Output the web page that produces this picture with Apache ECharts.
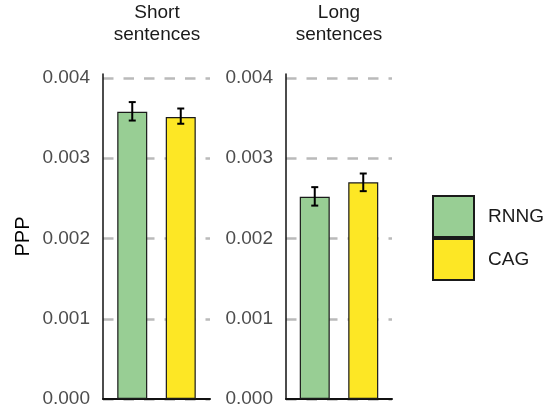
<!DOCTYPE html>
<html>
<head>
<meta charset="utf-8">
<script src="https://cdn.jsdelivr.net/npm/echarts@6/dist/echarts.min.js"></script>
<style>
  html, body { margin: 0; padding: 0; background: #fff; }
  #chart { width: 548px; height: 411px; }
</style>
</head>
<body>
<div id="chart"></div>
<script>
// facets and values
var panels = ['Short\nsentences', 'Long\nsentences'];
var rnngMean = [0.00358, 0.00252];
var rnngLow = [0.00347, 0.00241];
var rnngHigh = [0.00370, 0.00264];
var cagMean = [0.003515, 0.00270];
var cagLow = [0.00343, 0.00259];
var cagHigh = [0.00362, 0.00281];
var yTicks = [0, 0.001, 0.002, 0.003, 0.004];

var FONT = '"Liberation Sans", Arial, sans-serif';
var GREEN = '#98CE94';
var YELLOW = '#FDE725';
var BAR_W = 30;
var BAR_GAP = 18.5;

var chart = echarts.init(document.getElementById('chart'));

var grids = [
  { left: 103, top: 74, width: 107, height: 325 },
  { left: 286, top: 74, width: 106, height: 325 }
];
var titleX = [157, 339];

function errSeries(gi, name, lows, highs, side) {
  var off = side * (BAR_W + BAR_GAP) / 2;
  return {
    type: 'custom',
    name: name,
    xAxisIndex: gi,
    yAxisIndex: gi,
    z: 5,
    silent: true,
    data: [[0, lows[gi], highs[gi]]],
    renderItem: function (params, api) {
      var lo = api.coord([api.value(0), api.value(1)]);
      var hi = api.coord([api.value(0), api.value(2)]);
      var x = lo[0] + off;
      var cap = 3.5;
      var st = { stroke: '#000', lineWidth: 2 };
      return {
        type: 'group',
        children: [
          { type: 'line', shape: { x1: x, y1: lo[1], x2: x, y2: hi[1] }, style: st },
          { type: 'line', shape: { x1: x - cap, y1: lo[1], x2: x + cap, y2: lo[1] }, style: st },
          { type: 'line', shape: { x1: x - cap, y1: hi[1], x2: x + cap, y2: hi[1] }, style: st }
        ]
      };
    }
  };
}

var xAxes = [], yAxes = [], series = [], titles = [];
panels.forEach(function (p, gi) {
  titles.push({
    text: p,
    left: titleX[gi],
    top: 2,
    textAlign: 'center',
    padding: 0,
    textStyle: { fontFamily: FONT, fontSize: 19, fontWeight: 'normal', color: '#1a1a1a', lineHeight: 22 }
  });
  xAxes.push({
    type: 'category',
    gridIndex: gi,
    data: [p],
    axisLine: { lineStyle: { color: '#111', width: 2 } },
    axisTick: { show: false },
    axisLabel: { show: false }
  });
  yAxes.push({
    type: 'value',
    gridIndex: gi,
    min: yTicks[0],
    max: 0.00405,
    interval: 0.001,
    name: gi === 0 ? 'PPP' : '',
    nameLocation: 'middle',
    nameRotate: 90,
    nameGap: 70,
    nameTextStyle: { fontFamily: FONT, fontSize: 20, color: '#000' },
    axisLine: { show: true, lineStyle: { color: '#111', width: 1.5 } },
    axisTick: { show: false },
    axisLabel: {
      showMaxLabel: false,
      margin: 13,
      fontFamily: FONT,
      fontSize: 19,
      color: '#4d4d4d',
      formatter: function (v) { return v.toFixed(3); }
    },
    splitLine: {
      show: true,
      showMaxLine: false,
      lineStyle: { color: '#bababa', width: 2.5, type: [10.5, 10] }
    }
  });
  series.push({
    type: 'bar',
    name: 'RNNG',
    xAxisIndex: gi,
    yAxisIndex: gi,
    barWidth: BAR_W,
    barGap: (BAR_GAP / BAR_W * 100) + '%',
    itemStyle: { color: GREEN, borderColor: '#1a1a1a', borderWidth: 1.2 },
    data: [rnngMean[gi]]
  });
  series.push({
    type: 'bar',
    name: 'CAG',
    xAxisIndex: gi,
    yAxisIndex: gi,
    barWidth: BAR_W,
    barGap: (BAR_GAP / BAR_W * 100) + '%',
    itemStyle: { color: YELLOW, borderColor: '#1a1a1a', borderWidth: 1.2 },
    data: [cagMean[gi]]
  });
  series.push(errSeries(gi, 'errRNNG', rnngLow, rnngHigh, -1));
  series.push(errSeries(gi, 'errCAG', cagLow, cagHigh, 1));
});

chart.setOption({
  animation: false,
  textStyle: { fontFamily: FONT },
  title: titles,
  grid: grids,
  xAxis: xAxes,
  yAxis: yAxes,
  legend: {
    data: ['RNNG', 'CAG'],
    orient: 'vertical',
    left: 432,
    top: 195,
    padding: 0,
    icon: 'rect',
    itemWidth: 41,
    itemHeight: 41,
    itemGap: 0,
    selectedMode: false,
    textStyle: { fontFamily: FONT, fontSize: 19, color: '#1a1a1a', padding: [0, 0, 0, 9] }
  },
  series: series
});
</script>
</body>
</html>
